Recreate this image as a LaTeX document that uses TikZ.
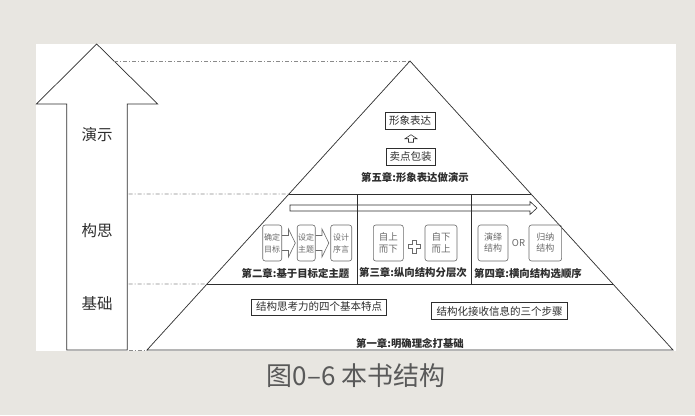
\documentclass[tikz,border=0pt]{standalone}
\usepackage{fontspec}
\setmainfont{Noto Sans CJK SC}
\newfontfamily\cjk{Noto Sans CJK SC}
\usetikzlibrary{calc}
\definecolor{bgc}{HTML}{E8E6E1}
\definecolor{ink}{HTML}{2E2E2E}
\definecolor{boxink}{HTML}{6A6A6A}
\definecolor{dd}{HTML}{8A8A8A}
\begin{document}
\begin{tikzpicture}[x=1pt,y=-1pt,
  line/.style={draw=ink,line width=0.7pt},
  ddline/.style={draw=dd,line width=0.6pt,dash pattern=on 4pt off 2pt on 1pt off 2pt},
  sidelabel/.style={font=\cjk\fontsize{15.5}{17}\selectfont,text=ink},
  chap/.style={font=\cjk\bfseries\fontsize{10.4}{12}\selectfont,text=ink,inner sep=0pt},
  sqbox/.style={draw=ink,line width=0.6pt,minimum height=17pt,inner sep=1pt,font=\cjk\fontsize{10.5}{12}\selectfont,text=ink},
  rbox/.style={draw=boxink,line width=0.6pt,rounded corners=2.5pt,minimum height=36pt,inner sep=0pt,align=center,text=boxink},
  rarrow/.pic={\draw[draw=boxink,line width=0.6pt] (0,-7.5) -- (6.5,-7.5) -- (6.5,-14) -- (13.3,0) -- (6.5,14) -- (6.5,7.5) -- (0,7.5);},
  uparrow/.pic={\draw[draw=ink,line width=0.6pt] (0,-4) -- (6,0) -- (2.5,0) -- (2.5,3.5) -- (-2.5,3.5) -- (-2.5,0) -- (-6,0) -- cycle;},
  plussign/.pic={\draw[draw=boxink,line width=0.6pt] (-2,-6.5) -- (2,-6.5) -- (2,-2) -- (6,-2) -- (6,2) -- (2,2) -- (2,6.5) -- (-2,6.5) -- (-2,2) -- (-6,2) -- (-6,-2) -- (-2,-2) -- cycle;}
]
\useasboundingbox (0,0) rectangle (695,415);
\fill[bgc] (0,0) rectangle (695,415);
\fill[white] (36,44) rectangle (676,351);

% big up arrow
\draw[line] (96.7,44) -- (157.7,104) -- (127.3,104) -- (127.3,350) -- (66.7,350) -- (66.7,104) -- (36.4,104) -- cycle;
\node[sidelabel] (l5) at (97,135) {演示};
\node[sidelabel] (l4) at (97,231) {构思};
\node[sidelabel] (l3) at (97,304) {基础};

% pyramid
\coordinate (apex) at (410,61);
\coordinate (pl) at (147,350);
\coordinate (pr) at (673,350);
\coordinate (ml1) at ($(apex)!0.4602!(pl)$);
\coordinate (mr1) at ($(apex)!0.4602!(pr)$);
\coordinate (ml2) at ($(apex)!0.7716!(pl)$);
\coordinate (mr2) at ($(apex)!0.7716!(pr)$);
\draw[line] (apex) -- (pl) -- (pr) -- cycle;
\draw[line] (ml1) -- (mr1);
\draw[line] (ml2) -- (mr2);
\draw[line] (357,194) -- (357,284);
\draw[line] (471,194) -- (471,284);

% dash-dot guide lines
\draw[ddline] (114,61) -- (apex);
\draw[ddline] (128.5,194) -- (ml1);
\draw[ddline] (128.5,284) -- (ml2);
\draw[ddline] (128.5,350) -- (pl);

% horizontal open arrow
\draw[line,line width=0.6pt] (290,205) -- (530,205) -- (530,201.5) -- (537,208) -- (530,214.5) -- (530,211) -- (290,211) -- cycle;

% chapter 5
\node[sqbox,minimum width=50pt] (xx) at (410,120.5) {形象表达};
\node[sqbox,minimum width=49pt] (md) at (410.5,157) {卖点包装};
\pic at (411,138.7) {uparrow};
\node[chap] (c5) at (415,178) {第五章:形象表达做演示};

% chapter 2
\node[rbox,minimum width=19pt,font=\cjk\fontsize{8}{12}\selectfont] (b1) at (272.2,243) {确定\\目标};
\node[rbox,minimum width=18pt,font=\cjk\fontsize{8}{12}\selectfont] (b2) at (306.2,243) {设定\\主题};
\node[rbox,minimum width=21pt,font=\cjk\fontsize{8}{12}\selectfont] (b3) at (341.2,243) {设计\\序言};
\pic at (b1.east) {rarrow};
\pic at (b2.east) {rarrow};
\node[chap] (c2) at (295.5,273) {第二章:基于目标定主题};

% chapter 3
\node[rbox,minimum width=30pt,font=\cjk\fontsize{9.5}{12.5}\selectfont] (b4) at (388.3,243) {自上\\而下};
\node[rbox,minimum width=32pt,font=\cjk\fontsize{9.5}{12.5}\selectfont] (b5) at (441,243) {自下\\而上};
\pic at (414,246.5) {plussign};
\node[chap] (c3) at (413,273) {第三章:纵向结构分层次};

% chapter 4
\node[rbox,minimum width=30pt,font=\cjk\fontsize{9}{11}\selectfont] (b6) at (493,243) {演绎\\结构};
\node[rbox,minimum width=32.7pt,font=\cjk\fontsize{9}{11}\selectfont] (b7) at (545.3,243) {归纳\\结构};
\node[font=\cjk\fontsize{9.5}{11}\selectfont,text=boxink] (or) at (518.5,243) {OR};
\node[chap] (c4) at (528,274) {第四章:横向结构选顺序};

% chapter 1
\node[sqbox,minimum width=135pt,minimum height=16pt] (a1) at (319.2,307) {结构思考力的四个基本特点};
\node[sqbox,minimum width=135.6pt,minimum height=16.6pt] (a2) at (499.5,311) {结构化接收信息的三个步骤};
\node[chap] (c1) at (410,343) {第一章:明确理念打基础};

% caption
\node[font=\cjk\fontsize{26}{30}\selectfont,text=black!65] (cap) at (356,376) {图0–6 本书结构};
\end{tikzpicture}
\end{document}
